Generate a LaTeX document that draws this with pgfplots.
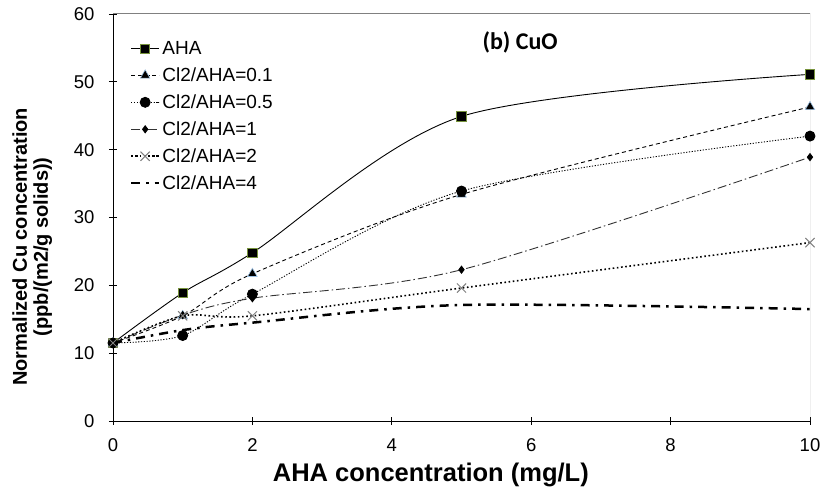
\documentclass[border=0pt]{standalone}
\usepackage{fontspec}
\setmainfont{Liberation Sans}
\newfontfamily\carlito{Carlito}
\usepackage{pgfplots}
\pgfplotsset{compat=1.18}
\definecolor{olivedge}{RGB}{119,147,60}
\definecolor{bluedge}{RGB}{157,195,230}
\definecolor{boxgray}{RGB}{128,128,128}
\begin{document}
\begin{tikzpicture}
\begin{axis}[
    scale only axis,
    width=697pt, height=407pt,
    xmin=0, xmax=10, ymin=0, ymax=60,
    xtick={0,2,...,10}, ytick={0,10,...,60},
    axis lines*=left,
    axis line style={-, line width=0.9pt},
    tick align=center,
    major tick length=8pt,
    tick style={black, line width=0.8pt},
    /pgf/number format/assume math mode=true,
    ticklabel style={font=\fontsize{18.5}{20}\selectfont},
    xticklabel style={yshift=-10pt},
    yticklabel style={xshift=-11pt},
    xlabel={\textbf{AHA concentration (mg/L)}},
    xlabel style={font=\fontsize{25.5}{28}\selectfont, at={(axis description cs:0.456,0)}, anchor=center, yshift=-54pt},
    ylabel={\textbf{Normalized Cu concentration}\\\textbf{(ppb/(m2/g solids))}},
    ylabel style={font=\fontsize{20}{21}\selectfont, align=center, at={(axis description cs:-0.116,0.428)}, anchor=center},
    legend style={draw=none, fill=none, at={(axis description cs:0.024,0.938)}, anchor=north west,
        font=\fontsize{19}{21}\selectfont, row sep=7.7pt, inner sep=0pt},
    legend cell align=left,
    legend image code/.code={\draw[mark repeat=2, mark phase=2, #1] plot coordinates {(0pt,0pt) (14pt,0pt) (28pt,0pt)};},
]
\draw[boxgray, line width=1pt] (rel axis cs:0,1) -- (rel axis cs:1,1) -- (rel axis cs:1,0);
\coordinate (sw) at (rel axis cs:0,0);
\coordinate (ne) at (rel axis cs:1,1);

% AHA
\addplot[black, line width=0.9pt, smooth, mark=square*, mark size=4.6pt,
    mark options={fill=black, draw=olivedge, line width=0.9pt, solid}]
    coordinates {(0,11.5) (1,18.9) (2,24.8) (5,44.9) (10,51.1)};
\addlegendentry{AHA}
% Cl2/AHA=0.1
\addplot[black, line width=0.9pt, smooth, dash pattern=on 4pt off 3pt, mark=triangle*, mark size=5.5pt,
    mark options={fill=black, draw=bluedge, line width=0.6pt, solid}]
    coordinates {(0,11.5) (1,15.5) (2,21.7) (5,33.4) (10,46.3)};
\addlegendentry{Cl2/AHA=0.1}
% Cl2/AHA=0.5
\addplot[black, line width=0.9pt, smooth, dash pattern=on 1.2pt off 1.6pt, mark=*, mark size=5pt,
    mark options={fill=black, solid}]
    coordinates {(0,11.5) (1,12.6) (2,18.7) (5,33.9) (10,42.0)};
\addlegendentry{Cl2/AHA=0.5}
% Cl2/AHA=1
\addplot[black!80, line width=0.9pt, smooth, dash pattern=on 9pt off 3pt on 1.5pt off 3pt, mark=diamond*, mark size=3.5pt,
    mark options={fill=black, draw=black, solid}]
    coordinates {(0,11.5) (1,15.6) (2,18.1) (5,22.3) (10,38.9)};
\addlegendentry{Cl2/AHA=1}
% Cl2/AHA=2
\addplot[black, line width=1.6pt, smooth, dash pattern=on 1.6pt off 2.6pt, mark=x, mark size=6.5pt,
    mark options={draw=boxgray, line width=1pt, solid}]
    coordinates {(0,11.5) (1,15.5) (2,15.5) (5,19.6) (10,26.3)};
\addlegendentry{Cl2/AHA=2}
% Cl2/AHA=4
\addplot[black, line width=2.5pt, smooth, dash pattern=on 9pt off 6pt on 2.5pt off 6pt]
    coordinates {(0,11.5) (1,13.4) (2,14.5) (5,17.1) (10,16.5)};
\addlegendentry{Cl2/AHA=4}

\node[font=\carlito\bfseries\fontsize{24}{26}\selectfont] at (rel axis cs:0.584,0.931) {(b) CuO};
\end{axis}
\pgfresetboundingbox
\path ([xshift=-113pt,yshift=-68pt]sw) rectangle ([xshift=11pt,yshift=14pt]ne);
\end{tikzpicture}
\end{document}
